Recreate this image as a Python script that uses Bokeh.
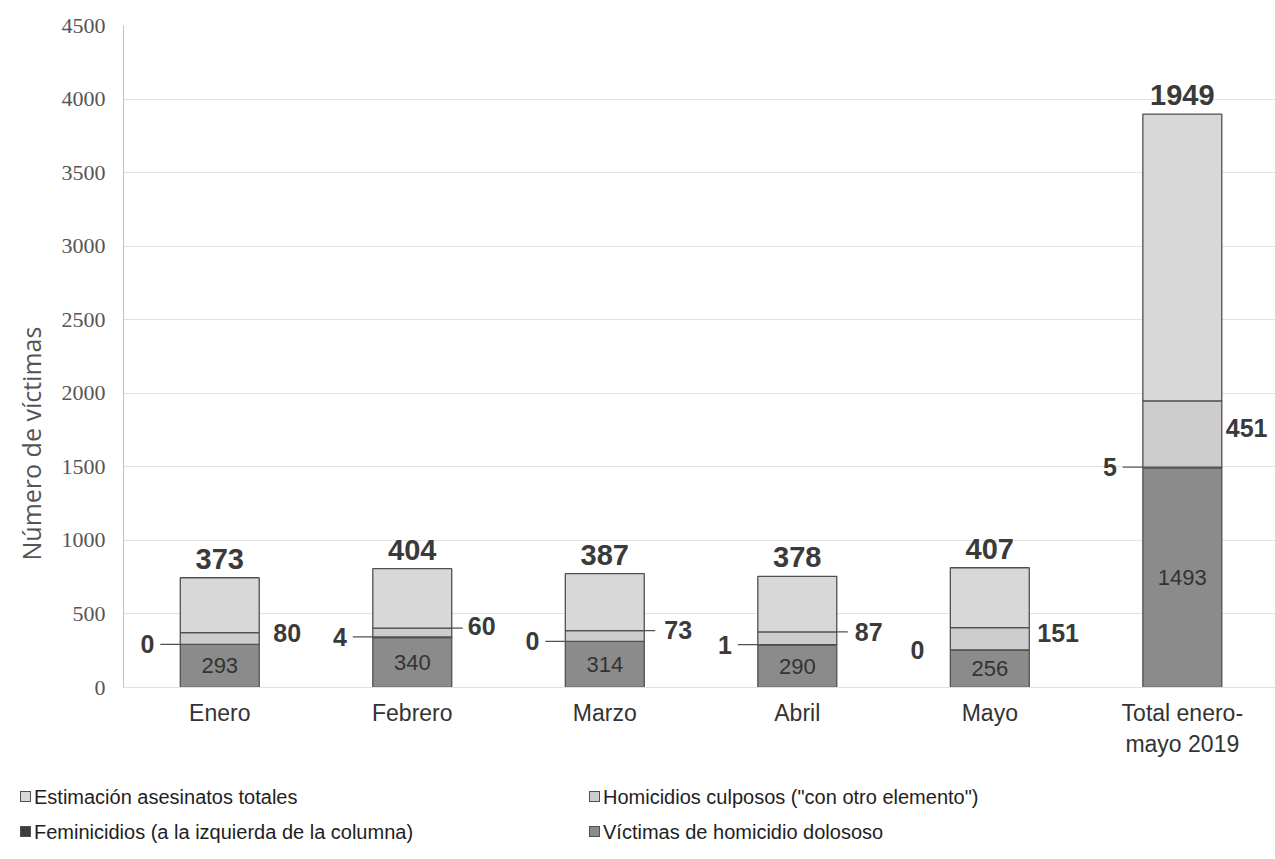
from bokeh.plotting import figure
from bokeh.layouts import column
from bokeh.models import (ColumnDataSource, Title, FixedTicker, Range1d, Div)
from bokeh.core.properties import value
from bokeh.embed import file_html
from bokeh.resources import INLINE

# ---------------- data ----------------
categories = ["Enero", "Febrero", "Marzo", "Abril", "Mayo", "Total enero-\nmayo 2019"]
dolosos = [293, 340, 314, 290, 256, 1493]          # Víctimas de homicidio doloso
feminicidios = [0, 4, 0, 1, 0, 5]                  # Feminicidios
culposos = [80, 60, 73, 87, 151, 451]              # Homicidios culposos ("con otro elemento")
estimacion = [373, 404, 387, 378, 407, 1949]       # Estimación asesinatos totales
y_ticks = [0, 500, 1000, 1500, 2000, 2500, 3000, 3500, 4000, 4500]
y_title = "Número de víctimas"
legend_labels = ["Estimación asesinatos totales",
                 "Homicidios culposos (\"con otro elemento\")",
                 "Feminicidios (a la izquierda de la columna)",
                 "Víctimas de homicidio dolososo"]

# ---------------- style ----------------
SANS = "Liberation Sans"
SERIF = "Liberation Serif"
FILLS = ["#8b8b8b", "#3c3c3c", "#cdcdcd", "#d8d8d8"]   # dolosos, fem, culposos, estimación
OUTLINE = "#505050"
BAR_W = 0.41
HALF = BAR_W / 2
W = 1275
FRAME_L = 123
X_END = 5.484
PX = (W - FRAME_L) / (X_END + 0.5)  # pixels per x unit

xs = list(range(len(categories)))
n = len(xs)
fem_top = [d + f for d, f in zip(dolosos, feminicidios)]
cul_mid = [ft + c / 2 for ft, c in zip(fem_top, culposos)]
cul_top = [ft + c for ft, c in zip(fem_top, culposos)]
grand_top = [ct + e for ct, e in zip(cul_top, estimacion)]

src = ColumnDataSource(dict(x=xs, dolosos=dolosos, feminicidios=feminicidios,
                            culposos=culposos, estimacion=estimacion))

p = figure(width=W, height=767, output_backend="svg", toolbar_location=None,
           x_range=Range1d(-0.5, X_END), y_range=Range1d(0, 4500),
           min_border_left=FRAME_L, min_border_right=0, min_border_top=25,
           min_border_bottom=80)
p.outline_line_color = None
p.background_fill_color = "white"

rs = p.vbar_stack(["dolosos", "feminicidios", "culposos", "estimacion"], x="x",
                  width=BAR_W, source=src, fill_color=FILLS,
                  line_color=OUTLINE, line_width=1.3)

# totals above bars
p.text(x=xs, y=grand_top, text=[str(v) for v in estimacion],
       text_align="center", text_baseline="alphabetic", y_offset=-19,
       text_font=value(SANS), text_font_style="bold", text_font_size="29px",
       text_color="#3a3a3a")

# dolosos inside bars
p.text(x=xs, y=[d / 2 for d in dolosos], text=[str(v) for v in dolosos],
       text_align="center", text_baseline="middle",
       text_font=value(SANS), text_font_size="22px", text_color="#333333")

# feminicidios to the left with leader lines
p.text(x=[x - HALF for x in xs], y=fem_top, text=[str(v) for v in feminicidios],
       x_offset=-26, text_align="right", text_baseline="middle",
       text_font=value(SANS), text_font_style="bold", text_font_size="25px",
       text_color="#3a3a3a")
lead_l = [i for i in range(n) if i != 4]
p.segment(x0=[xs[i] - HALF - 20 / PX for i in lead_l], x1=[xs[i] - HALF for i in lead_l],
          y0=[fem_top[i] for i in lead_l], y1=[fem_top[i] for i in lead_l],
          line_color=OUTLINE, line_width=1.2)

# culposos to the right
side_gap = [14, 16, 20, 18, 8, 4]
cs = ColumnDataSource(dict(x=[x + HALF for x in xs], y=cul_mid,
                           t=[str(v) for v in culposos], gap=side_gap))
p.text(x="x", y="y", text="t", x_offset="gap", y_offset=-6, source=cs,
       text_align="left", text_baseline="middle",
       text_font=value(SANS), text_font_style="bold", text_font_size="25px",
       text_color="#3a3a3a")
lead_r = [1, 2, 3]
p.segment(x0=[xs[i] + HALF for i in lead_r], x1=[xs[i] + HALF + 11 / PX for i in lead_r],
          y0=[cul_top[i] for i in lead_r], y1=[cul_top[i] for i in lead_r],
          line_color=OUTLINE, line_width=1.2)

# axes
p.xgrid.visible = False
p.ygrid.ticker = FixedTicker(ticks=y_ticks)
p.ygrid.grid_line_color = "#e2e2e2"
p.yaxis.ticker = FixedTicker(ticks=y_ticks)
p.yaxis.major_tick_line_color = None
p.yaxis.minor_tick_line_color = None
p.yaxis.axis_line_color = "#c4c4c4"
p.yaxis.major_label_text_font = SERIF
p.yaxis.major_label_text_font_size = "22px"
p.yaxis.major_label_text_color = "#555555"
p.yaxis.major_label_standoff = 12

p.xaxis.ticker = FixedTicker(ticks=xs)
p.xaxis.major_label_overrides = {i: c for i, c in enumerate(categories)}
p.xaxis.major_tick_line_color = None
p.xaxis.minor_tick_line_color = None
p.xaxis.axis_line_color = "#e0e0e0"
p.xaxis.major_label_text_font = SANS
p.xaxis.major_label_text_font_size = "23px"
p.xaxis.major_label_text_color = "#333333"
p.xaxis.major_label_standoff = 6

p.add_layout(Title(text=y_title, align="left", offset=127, standoff=22,
                   text_font="Open Sans", text_font_size="25px",
                   text_font_style="normal", text_color="#555555"), "left")

# ---------------- legend (HTML strip below the plot) ----------------
order = [3, 2, 1, 0]           # series index (into FILLS) for each legend label
col_x = [20, 589]
row_y = [30, 65]               # row centres within the strip
parts = []
for i, label in enumerate(legend_labels):
    cx = col_x[i % 2]
    cy = row_y[i // 2]
    parts.append(
        f'<span style="position:absolute;left:{cx}px;top:{cy - 6}px;width:11px;height:11px;'
        f'box-sizing:border-box;background:{FILLS[order[i]]};border:1px solid {OUTLINE};"></span>'
        f'<span style="position:absolute;left:{cx + 14}px;top:{cy - 12}px;line-height:24px;'
        f'white-space:nowrap;font-family:\'{SANS}\';font-size:20px;color:#1e1e1e;">{label}</span>')
html = ('<div style="position:relative;width:%dpx;height:92px;margin:0;padding:0;">' % W
        + "".join(parts) + "</div>")
legend_div = Div(text=html, width=W, height=92, margin=0)

open("out.html", "w").write(file_html(column(p, legend_div, spacing=0), INLINE))
